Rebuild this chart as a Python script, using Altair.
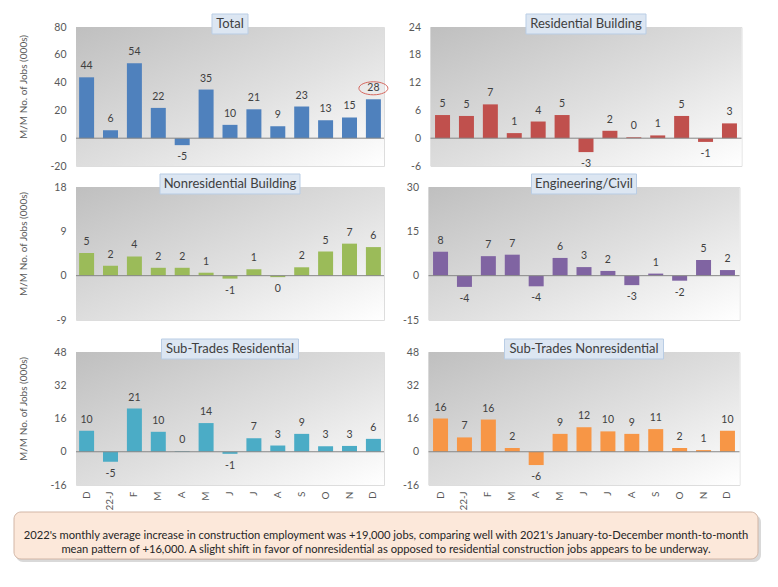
import json
import altair as alt
import pandas as pd

# ---------------- data ----------------
months = ["D", "22-J", "F", "M", "A", "M", "J", "J", "A", "S", "O", "N", "D"]
titles = ["Total", "Residential Building", "Nonresidential Building",
          "Engineering/Civil", "Sub-Trades Residential", "Sub-Trades Nonresidential"]
total = [43.8, 5.7, 53.9, 21.8, -5.0, 35.0, 9.6, 20.8, 8.6, 22.8, 12.9, 14.9, 28.0]
residential = [5.0, 4.8, 7.3, 1.1, 3.6, 5.0, -3.0, 1.6, 0.2, 0.6, 4.8, -0.8, 3.2]
nonresidential = [4.6, 2.0, 3.9, 1.6, 1.6, 0.6, -0.6, 1.3, -0.3, 1.7, 4.9, 6.5, 5.8]
engineering = [8.1, -3.8, 6.6, 7.1, -3.6, 6.0, 2.9, 1.6, -3.2, 0.7, -1.7, 5.3, 1.9]
sub_res = [10.1, -4.8, 20.8, 9.6, 0.3, 13.8, -1.0, 6.5, 3.0, 8.6, 2.6, 2.8, 6.2]
sub_nonres = [16.0, 6.9, 15.5, 1.8, -6.4, 8.6, 11.8, 9.8, 8.6, 10.9, 1.8, 0.8, 10.1]
series = [total, residential, nonresidential, engineering, sub_res, sub_nonres]
domains = [[-20, 80], [-6, 24], [-9, 18], [-15, 30], [-16, 48], [-16, 48]]
tick_values = [[-20, 0, 20, 40, 60, 80], [-6, 0, 6, 12, 18, 24], [-9, 0, 9, 18],
               [-15, 0, 15, 30], [-16, 0, 16, 32, 48], [-16, 0, 16, 32, 48]]
colors = ["#4F81BD", "#C0504D", "#9BBB59", "#8064A2", "#4BACC6", "#F79646"]
highlight_index = 12  # circled December value in the Total panel
y_title = "M/M No. of Jobs (000s)"
note = ("2022's monthly average increase in construction employment was +19,000 jobs, "
        "comparing well with 2021's January-to-December month-to-month\n"
        "mean pattern of +16,000. A slight shift in favor of nonresidential as opposed "
        "to residential construction jobs appears to be underway.")

# ---------------- style ----------------
FONT = "Lato"
LEFT_W, RIGHT_W = 308, 311
ROW_H = [139, 133, 133]
TITLE_BOX_W = [36, 120, 140, 105, 137, 159]
ELLIPSE = "M -1 0 A 1 0.45 0 1 1 1 0 A 1 0.45 0 1 1 -1 0 Z"

grad = {"gradient": "linear", "x1": 0, "y1": 0, "x2": 1, "y2": 1,
        "stops": [{"offset": 0, "color": "#bfbfbf"},
                  {"offset": 0.55, "color": "#e0e0e0"},
                  {"offset": 1, "color": "#ffffff"}]}

one = pd.DataFrame({"k": [0]})


def vspacer(xv, y1, y2):
    return alt.Chart(one).mark_rule(opacity=0).encode(
        x=alt.value(xv), y=alt.value(y1), y2=alt.value(y2))


def panel(k, w, h, left, bottom):
    df = pd.DataFrame({"i": list(range(13)), "v": series[k]})
    if bottom:
        xaxis = alt.Axis(labelExpr=f"{json.dumps(months)}[datum.value]", labelAngle=270,
                         ticks=False, domain=False, labelPadding=6, labelFont=FONT,
                         labelFontSize=10, labelColor="#595959", title=None)
    else:
        xaxis = None
    po = 0.13 if left else 0.19
    x = alt.X("i:O", scale=alt.Scale(paddingInner=0.373, paddingOuter=po), axis=xaxis)
    ak = dict(values=tick_values[k], tickCount=20, labelExpr="datum.value + ''",
              ticks=False, domain=False, grid=False, labelPadding=10, minExtent=28,
              maxExtent=28, labelOverlap=False, labelFont=FONT, labelFontSize=10.5,
              labelColor="#595959")
    if left:
        ak.update(title=y_title, titleFont=FONT, titleFontSize=10, titleFontWeight="normal",
                  titleColor="#595959", titleX=-48, titleY=h / 2 - 10, titleAngle=270,
                  titleBaseline="bottom", titleAlign="center")
    else:
        ak.update(title=None)
    y = alt.Y("v:Q", scale=alt.Scale(domain=domains[k], nice=False, zero=False),
              axis=alt.Axis(**ak))

    bg = alt.Chart(one).mark_rect(fill=grad).encode(
        x=alt.value(0), x2=alt.value(w), y=alt.value(0), y2=alt.value(h))
    bars = alt.Chart(df).mark_bar(color=colors[k]).encode(x=x, y=y)
    zero = alt.Chart(one).mark_rule(color="#868686", strokeWidth=1).encode(y=alt.datum(0))
    base = alt.Chart(df).transform_calculate(lab="'' + round(datum.v)")
    pos = base.transform_filter("datum.v >= 0").mark_text(
        baseline="bottom", dy=-6, font=FONT, fontSize=10.5, color="#404040").encode(
        x=x, y=y, text="lab:N")
    neg = base.transform_filter("datum.v < 0").mark_text(
        baseline="top", dy=7, font=FONT, fontSize=10.5, color="#404040").encode(
        x=x, y=y, text="lab:N")
    bw = TITLE_BOX_W[k]
    tbox = alt.Chart(one).mark_rect(fill="#DCE6F2", stroke="#B9CDE5", strokeWidth=1).encode(
        x=alt.value(w / 2 - bw / 2), x2=alt.value(w / 2 + bw / 2),
        y=alt.value(-13), y2=alt.value(7))
    ttext = alt.Chart(one).mark_text(text=titles[k], font=FONT, fontSize=13, color="#404040",
                                     baseline="middle", align="center").encode(
        x=alt.value(w / 2), y=alt.value(-3))
    layers = [bg, bars, zero, pos, neg, tbox, ttext]
    if left:
        layers.append(vspacer(w + 4.5, 0, 1))
    else:
        layers.append(vspacer(-30, 0, 1))
    if not bottom:
        layers.append(vspacer(1, h, h + 6))
    if k == 0:
        ring = alt.Chart(df).transform_filter(f"datum.i == {highlight_index}").mark_point(
            shape=ELLIPSE, size=841, filled=False, stroke="#D6675E", strokeWidth=1,
            opacity=1).encode(x=x, y=y, yOffset=alt.value(-11))
        layers.append(ring)
    return alt.layer(*layers).properties(width=w, height=h)


rows = []
for r in range(3):
    bottom = r == 2
    rows.append(alt.hconcat(panel(2 * r, LEFT_W, ROW_H[r], True, bottom),
                            panel(2 * r + 1, RIGHT_W, ROW_H[r], False, bottom),
                            spacing=8.5))

BOX_W, BOX_H = 744, 47
bx = -62
shadow = alt.Chart(one).mark_rect(fill="#000000", opacity=0.15, cornerRadius=7).encode(
    x=alt.value(bx + 2), x2=alt.value(bx + BOX_W + 3), y=alt.value(3), y2=alt.value(BOX_H + 3))
box = alt.Chart(one).mark_rect(fill="#FCE8DA", stroke="#D2B6A6", strokeWidth=1,
                               cornerRadius=7).encode(
    x=alt.value(bx), x2=alt.value(bx + BOX_W), y=alt.value(0), y2=alt.value(BOX_H))
btext = alt.Chart(one).mark_text(text=note, lineBreak="\n", lineHeight=14, font=FONT,
                                 fontSize=11.2, color="#262626", baseline="middle",
                                 align="center").encode(
    x=alt.value(bx + BOX_W / 2), y=alt.value(BOX_H / 2))
note_box = alt.layer(shadow, box, btext).properties(width=LEFT_W, height=BOX_H)

chart = alt.vconcat(
    rows[0],
    alt.vconcat(rows[1], alt.vconcat(rows[2], note_box, spacing=0), spacing=11),
    spacing=0,
).configure_view(stroke=None).configure(background="white")

chart.save("out.html", embed_options={"renderer": "svg", "actions": False})
